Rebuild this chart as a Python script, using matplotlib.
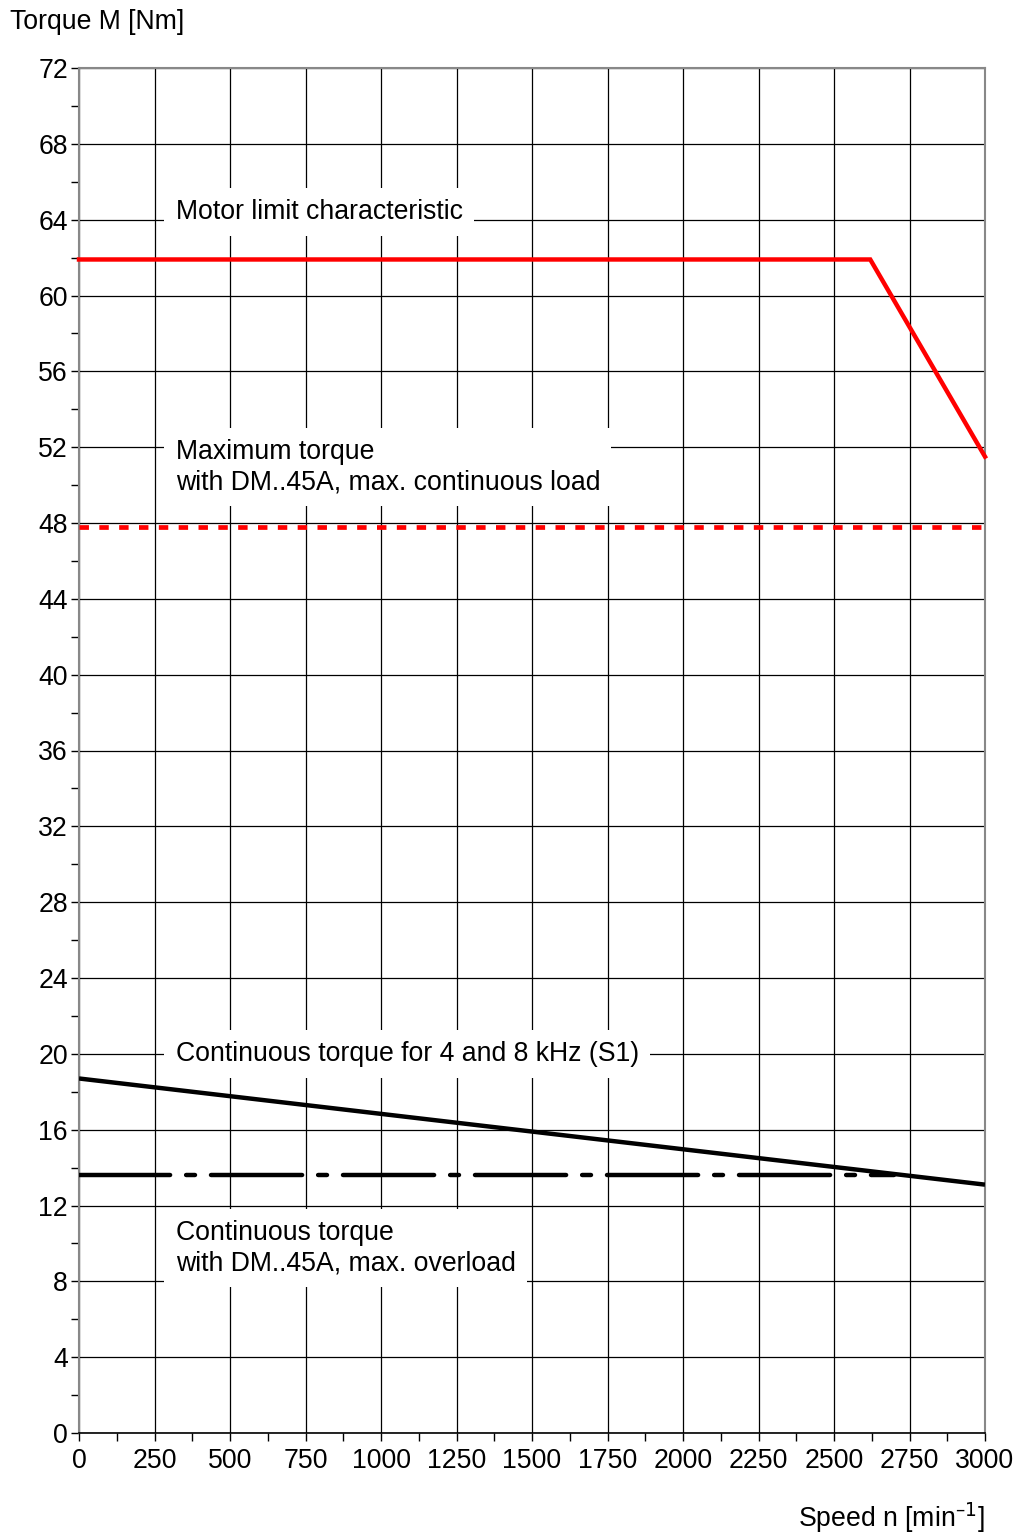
import numpy as np
import matplotlib
matplotlib.use("Agg")
import matplotlib.pyplot as plt
from matplotlib.ticker import MultipleLocator

plt.rcParams['font.family'] = ['Liberation Sans', 'DejaVu Sans']

# data
motor_limit_n = [0, 2620, 3000]
motor_limit_m = [61.9, 61.9, 51.5]
max_torque_n = [0, 3000]
max_torque_m = [47.8, 47.8]
cont_s1_n = [0, 3000]
cont_s1_m = [18.7, 13.1]
cont_overload_n = [0, 2700]
cont_overload_m = [13.6, 13.6]

labels = ["Motor limit characteristic",
          "Maximum torque\nwith DM..45A, max. continuous load",
          "Continuous torque for 4 and 8 kHz (S1)",
          "Continuous torque\nwith DM..45A, max. overload"]
label_pos = [(320, 64.4), (320, 50.95), (320, 20.0), (320, 9.76)]

fs = 19.2

fig = plt.figure(figsize=(10.17, 15.35), dpi=100)
ax = fig.add_axes([79/1017, 1-1433/1535, (985-79)/1017, (1433-68)/1535])

ax.set_xlim(0, 3000)
ax.set_ylim(0, 72)
ax.xaxis.set_major_locator(MultipleLocator(250))
ax.xaxis.set_minor_locator(MultipleLocator(125))
ax.yaxis.set_major_locator(MultipleLocator(4))
ax.yaxis.set_minor_locator(MultipleLocator(2))
ax.grid(which='major', color='black', linewidth=0.9, zorder=0)
ax.tick_params(which='both', direction='out', length=6, width=1, labelsize=fs,
               color='black', pad=2)
ax.tick_params(axis='x', pad=5)

for s in ['left', 'top', 'right']:
    ax.spines[s].set_color('#888888')
    ax.spines[s].set_linewidth(1.5)
ax.spines['bottom'].set_color('black')
ax.spines['bottom'].set_linewidth(1.2)

ax.plot(motor_limit_n, motor_limit_m, color='#ff0000', lw=3.2,
        solid_joinstyle='miter', zorder=3, clip_on=False)
ax.plot(max_torque_n, max_torque_m, color='#ff0000', lw=3.4,
        dashes=(2.0, 2.2), zorder=3, clip_on=False)
ax.plot(cont_overload_n, cont_overload_m, color='black', lw=3.2,
        dashes=(20.5, 3.6, 2.0, 3.6), dash_capstyle='round', zorder=3)
ax.plot(cont_s1_n, cont_s1_m, color='black', lw=3.2, zorder=4,
        solid_capstyle='butt')

for txt, (x, y) in zip(labels, label_pos):
    ax.text(x, y, txt, fontsize=fs, ha='left', va='center', zorder=2,
            linespacing=1.22,
            bbox=dict(facecolor='white', edgecolor='none', pad=8))

fig.text(10/1017, 1-22/1535, "Torque M [Nm]", fontsize=fs,
         ha='left', va='center')
fig.text(985/1017, 1-1518/1535, "Speed n [min$^{\u2013 1}$]", fontsize=fs,
         ha='right', va='center')

fig.savefig("out.png", dpi=100)
